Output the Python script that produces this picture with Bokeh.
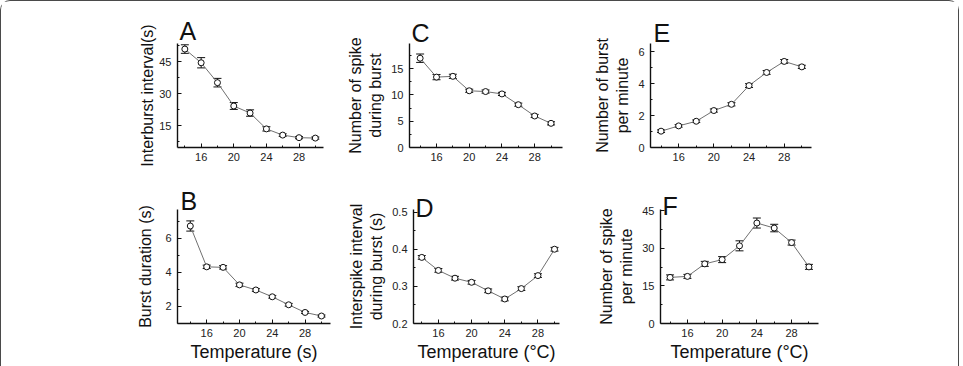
from bokeh.plotting import figure
from bokeh.models import ColumnDataSource, Whisker, TeeHead, FixedTicker, Range1d
from bokeh.layouts import row, column
from bokeh.embed import file_html
from bokeh.resources import INLINE

# ---- data ----
temperature = [14, 16, 18, 20, 22, 24, 26, 28, 30]
x_major_ticks = [16, 20, 24, 28]
x_minor_ticks = [14, 18, 22, 26, 30]

interburst = [50.9, 44.5, 35.2, 24.3, 21.0, 13.6, 10.7, 9.5, 9.3]
interburst_err = [2.0, 2.4, 2.0, 1.6, 1.5, 1.0, 0.6, 0.5, 0.5]

burst_duration = [6.73, 4.33, 4.30, 3.27, 2.97, 2.57, 2.10, 1.65, 1.44]
burst_duration_err = [0.3, 0.1, 0.1, 0.1, 0.08, 0.08, 0.08, 0.06, 0.06]

spikes_per_burst = [17.0, 13.4, 13.55, 10.8, 10.65, 10.2, 8.15, 6.0, 4.6]
spikes_per_burst_err = [0.8, 0.5, 0.4, 0.3, 0.3, 0.3, 0.3, 0.3, 0.3]

interspike = [0.378, 0.343, 0.322, 0.311, 0.288, 0.266, 0.294, 0.329, 0.400]
interspike_err = [0.005, 0.005, 0.005, 0.005, 0.005, 0.005, 0.005, 0.005, 0.005]

bursts_per_min = [1.02, 1.35, 1.64, 2.31, 2.70, 3.87, 4.69, 5.38, 5.04]
bursts_per_min_err = [0.08, 0.08, 0.08, 0.1, 0.1, 0.12, 0.12, 0.12, 0.1]

spikes_per_min = [18.4, 18.8, 23.8, 25.5, 31.0, 40.1, 38.1, 32.3, 22.6]
spikes_per_min_err = [1.0, 0.8, 1.0, 1.2, 2.0, 2.0, 1.5, 1.0, 1.0]

FONT = "Liberation Sans"


def make_panel(y, err, xr, yr, yticks, yminor, ylabel, xlabel, letter,
               width, height, left, right, axis_top, axis_bottom,
               letter_dx, letter_standoff, label_standoff):
    p = figure(width=width, height=height, output_backend="svg", toolbar_location=None,
               x_range=Range1d(*xr), y_range=Range1d(*yr), title=letter,
               min_border_left=left, min_border_right=right,
               min_border_top=axis_top, min_border_bottom=height - axis_bottom)
    p.outline_line_color = None
    p.xgrid.visible = False
    p.ygrid.visible = False
    p.background_fill_color = "white"
    p.border_fill_color = "white"

    p.title.align = "left"
    p.title.vertical_align = "bottom"
    p.title.offset = letter_dx
    p.title.standoff = letter_standoff
    p.title.text_font = FONT
    p.title.text_font_size = "25px"
    p.title.text_font_style = "normal"
    p.title.text_color = "#111111"

    upper = [v + e for v, e in zip(y, err)]
    lower = [v - e for v, e in zip(y, err)]
    src = ColumnDataSource(dict(x=temperature, y=y, upper=upper, lower=lower))

    p.line("x", "y", source=src, line_color="#707070", line_width=1)
    wh = Whisker(source=src, base="x", upper="upper", lower="lower",
                 line_color="#111111", line_width=1,
                 upper_head=TeeHead(size=8, line_color="#111111", line_width=1),
                 lower_head=TeeHead(size=8, line_color="#111111", line_width=1))
    p.add_layout(wh)
    p.scatter("x", "y", source=src, marker="circle", size=6,
              fill_color="white", line_color="#111111", line_width=1)

    for ax in (p.xaxis[0], p.yaxis[0]):
        ax.axis_line_color = "#111111"
        ax.axis_line_width = 1.4
        ax.major_tick_line_color = "#111111"
        ax.minor_tick_line_color = "#111111"
        ax.major_tick_in = 4
        ax.major_tick_out = 0
        ax.minor_tick_in = 2
        ax.minor_tick_out = 0
        ax.major_label_text_font = FONT
        ax.major_label_text_font_size = "11px"
        ax.major_label_text_color = "#222222"
        ax.axis_label_text_font = FONT
        ax.axis_label_text_font_style = "normal"
        ax.axis_label_text_color = "#111111"
        ax.axis_label_text_font_size = "16px"

    p.xaxis.ticker = FixedTicker(ticks=x_major_ticks, minor_ticks=x_minor_ticks)
    p.yaxis.ticker = FixedTicker(ticks=yticks, minor_ticks=yminor)
    p.xaxis.major_label_standoff = 5
    p.yaxis.major_label_standoff = 6
    p.yaxis.axis_label = ylabel
    p.yaxis.axis_label_standoff = label_standoff
    if xlabel:
        p.xaxis.axis_label = xlabel
        p.xaxis.axis_label_standoff = 2
        p.xaxis.axis_label_text_font_size = "18px"
    return p


pA = make_panel(interburst, interburst_err, (13.1, 31.0), (4.9, 53.5),
                [15, 30, 45], [7.5, 22.5, 37.5, 52.5], "Interburst interval(s)", None, "A",
                335, 183, 176, 13, 42, 146, 2, -2, 0)
pC = make_panel(spikes_per_burst, spikes_per_burst_err, (12.7, 31.4), (0, 19.8),
                [0, 5, 10, 15], [2.5, 7.5, 12.5, 17.5], "Number of spike\nduring burst", None, "C",
                240, 183, 73, 14, 35, 148, 2, -6, 4)
pE = make_panel(bursts_per_min, bursts_per_min_err, (12.8, 31.1), (0, 6.5),
                [0, 2, 4, 6], [1, 3, 5], "Number of burst\nper minute", None, "E",
                382, 183, 74, 147, 40, 151, 3, -6, 4)
pB = make_panel(burst_duration, burst_duration_err, (12.44, 31.1), (1.0, 7.7),
                [2, 4, 6], [1, 3, 5, 7], "Burst duration (s)", "Temperature (s)", "B",
                335, 183, 176, 6, 25, 141, 3, -10, 8)
pD = make_panel(interspike, interspike_err, (13.0, 30.6), (0.2, 0.507),
                [0.2, 0.3, 0.4, 0.5], [0.25, 0.35, 0.45], "Interspike interval\nduring burst (s)",
                "Temperature (\u00b0C)", "D",
                240, 183, 77, 17, 24, 141, 2, -24, 4)
pF = make_panel(spikes_per_min, spikes_per_min_err, (12.9, 31.1), (0, 45.5),
                [0, 15, 30, 45], [7.5, 22.5, 37.5], "Number of spike\nper minute",
                "Temperature (\u00b0C)", "F",
                382, 183, 84, 140, 22, 139, 2, -20, 4)

layout = column(row(pA, pC, pE), row(pB, pD, pF),
                styles={"border-top": "1.5px solid #4a4a4a",
                        "border-left": "1.5px solid #4a4a4a",
                        "border-right": "1.5px solid #4a4a4a",
                        "border-radius": "10px 10px 0 0"})

open("out.html", "w").write(file_html(layout, INLINE))
